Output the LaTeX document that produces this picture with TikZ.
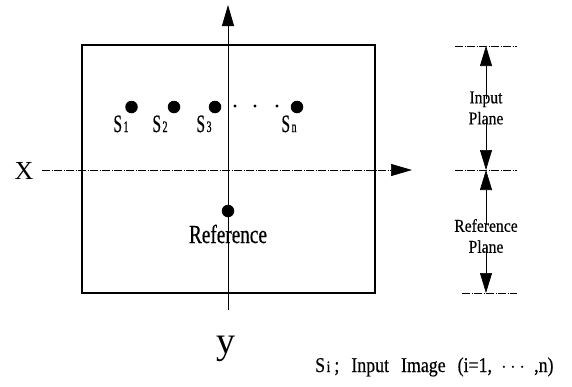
\documentclass[tikz,border=0pt]{standalone}
\usepackage{fontspec}
\setmainfont{Liberation Serif}
\newfontfamily\lblfont{Liberation Serif}[FakeStretch=0.62,FakeBold=0.5]
\newfontfamily\reffont{Liberation Serif}[FakeStretch=0.74,FakeBold=0.5]
\newfontfamily\planefont{Liberation Serif}[FakeStretch=0.87,FakeBold=0.4]
\newfontfamily\legfont{Liberation Serif}[FakeStretch=0.85,FakeBold=0.4]
\usetikzlibrary{arrows.meta}
\tikzset{
  bigdot/.style={circle,fill=black,inner sep=0pt,minimum size=12.5pt},
  smalldot/.style={circle,fill=black,inner sep=0pt,minimum size=3.2pt},
  lbl/.style={inner sep=0pt,anchor=base,font=\lblfont\fontsize{25}{25}\selectfont},
  axisdash/.style={line width=0.7pt,dash pattern=on 8pt off 1.5pt on 1pt off 1.5pt},
  bigtip/.style={-{Triangle[length=21pt,width=12pt]}},
  dimtip/.style={-{Triangle[length=20pt,width=12pt]}},
  plane/.style={align=center,inner sep=0pt,font=\planefont\fontsize{18}{21}\selectfont},
}
\newcommand{\sub}[1]{\hspace{1.5pt}{\fontsize{16}{16}\selectfont #1}}
\begin{document}
\begin{tikzpicture}[x=1pt,y=-1pt]
\useasboundingbox (0,0) rectangle (572,386);
% frame
\node[draw,line width=2pt,minimum width=293pt,minimum height=248pt,inner sep=0pt] (box) at (228.5,169) {};
% axes
\coordinate (xs) at (42,170);
\coordinate (xm) at (390,170);
\coordinate (xe) at (412,170);
\coordinate (ys) at (228,310);
\coordinate (ye) at (228,5);
\draw[axisdash] (xs) -- (xm);
\draw[bigtip,line width=0.7pt] (xm) -- (xe);
\draw[bigtip,line width=0.8pt] (ys) -- (ye);
\node[font=\fontsize{26}{26}\selectfont,inner sep=0pt] (X) at (24,171) {X};
\node[font=\fontsize{38}{38}\selectfont,inner sep=0pt,anchor=base] (Y) at (226,353) {y};
% input points
\node[bigdot] (s1) at (131.5,107) {};
\node[bigdot] (s2) at (174,107) {};
\node[bigdot] (s3) at (215,107) {};
\node[smalldot] (d1) at (235,106) {};
\node[smalldot] (d2) at (255,106) {};
\node[smalldot] (d3) at (277,106) {};
\node[bigdot] (sn) at (297,107) {};
\node[lbl] (l1) at (121,132) {S\sub{1}};
\node[lbl] (l2) at (160,132) {S\sub{2}};
\node[lbl] (l3) at (204,132) {S\sub{3}};
\node[lbl] (ln) at (289,132) {S\sub{n}};
% reference
\node[bigdot] (r) at (228,211) {};
\node[font=\reffont\fontsize{26}{26}\selectfont,inner sep=0pt,anchor=base] (rl) at (228,243) {Reference};
% right dimension
\coordinate (t1) at (455,46); \coordinate (t2) at (517,46);
\coordinate (m1) at (455,170); \coordinate (m2) at (517,170);
\coordinate (b1) at (462,293); \coordinate (b2) at (517,293);
\draw[axisdash,line width=0.5pt] (t1) -- (t2);
\draw[axisdash,line width=0.5pt] (m1) -- (m2);
\draw[axisdash,line width=0.5pt] (b1) -- (b2);
\coordinate (at) at (486,46);
\coordinate (am) at (486,170);
\coordinate (ab) at (486,293);
\node[plane] (ip) at (486,108) {Input\\Plane};
\node[plane] (rp) at (486,236) {Reference\\Plane};
\draw[dimtip,line width=0.6pt] ([yshift=-8pt]ip.north) -- (at);
\draw[dimtip,line width=0.6pt] ([yshift=2pt]ip.south) -- (am);
\draw[dimtip,line width=0.6pt] ([yshift=-6pt]rp.north) -- (am);
\draw[dimtip,line width=0.6pt] ([yshift=2pt]rp.south) -- (ab);
% legend
\node[font=\legfont\fontsize{21}{21}\selectfont,inner sep=0pt,anchor=base west] (leg) at (315,372)
  {S\sub{i}\hspace{4pt};\hspace{12pt}Input\hspace{12pt}Image\hspace{12pt}(i=1,\hspace{9pt}$\cdots$\hspace{9pt},n)};
\end{tikzpicture}
\end{document}
